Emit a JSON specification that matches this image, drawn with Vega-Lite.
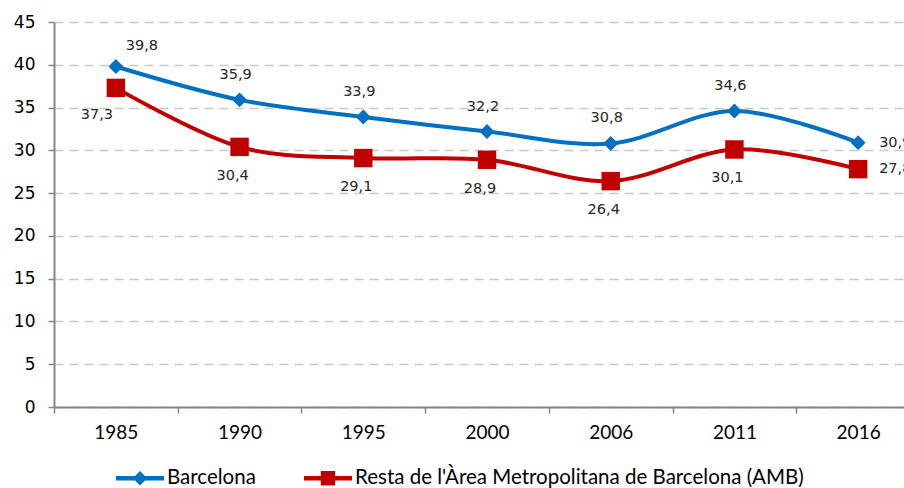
{
  "$schema": "https://vega.github.io/schema/vega-lite/v6.json",
  "width": 850,
  "height": 385,
  "autosize": {"type": "none"},
  "padding": {"left": 54, "top": 22, "right": 0, "bottom": 81},
  "background": "white",
  "config": {
    "view": {"stroke": null},
    "locale": {"number": {"decimal": ",", "thousands": ".", "grouping": [3], "currency": ["", " €"]}}
  },
  "data": {
    "values": [
      {"year": "1985", "series": "Barcelona", "value": 39.8},
      {"year": "1990", "series": "Barcelona", "value": 35.9},
      {"year": "1995", "series": "Barcelona", "value": 33.9},
      {"year": "2000", "series": "Barcelona", "value": 32.2},
      {"year": "2006", "series": "Barcelona", "value": 30.8},
      {"year": "2011", "series": "Barcelona", "value": 34.6},
      {"year": "2016", "series": "Barcelona", "value": 30.9},
      {"year": "1985", "series": "Resta de l'Àrea Metropolitana de Barcelona (AMB)", "value": 37.3},
      {"year": "1990", "series": "Resta de l'Àrea Metropolitana de Barcelona (AMB)", "value": 30.4},
      {"year": "1995", "series": "Resta de l'Àrea Metropolitana de Barcelona (AMB)", "value": 29.1},
      {"year": "2000", "series": "Resta de l'Àrea Metropolitana de Barcelona (AMB)", "value": 28.9},
      {"year": "2006", "series": "Resta de l'Àrea Metropolitana de Barcelona (AMB)", "value": 26.4},
      {"year": "2011", "series": "Resta de l'Àrea Metropolitana de Barcelona (AMB)", "value": 30.1},
      {"year": "2016", "series": "Resta de l'Àrea Metropolitana de Barcelona (AMB)", "value": 27.8}
    ]
  },
  "encoding": {
    "x": {
      "field": "year", "type": "ordinal", "sort": null,
      "scale": {"type": "band", "range": [0, 866], "paddingInner": 0, "paddingOuter": 0},
      "axis": {
        "title": null, "labelAngle": 0, "grid": false,
        "domainColor": "#878787", "domainWidth": 2,
        "tickColor": "#878787", "tickWidth": 1.5, "tickSize": 6, "tickBand": "extent",
        "labelFont": "Lato", "labelFontSize": 19, "labelColor": "#000000",
        "labelPadding": 10
      }
    },
    "y": {
      "field": "value", "type": "quantitative",
      "scale": {"domain": [0, 45], "nice": false},
      "axis": {
        "title": null, "values": [0, 5, 10, 15, 20, 25, 30, 35, 40, 45],
        "domainColor": "#878787", "domainWidth": 2,
        "tickColor": "#878787", "tickWidth": 1.5, "tickSize": 6,
        "gridColor": "#c8c8c8", "gridWidth": 1.5, "gridDash": [9, 6],
        "labelFont": "DejaVu Sans", "labelFontSize": 17, "labelColor": "#000000",
        "labelPadding": 13
      }
    }
  },
  "layer": [
    {
      "mark": {"type": "line", "interpolate": "cardinal", "strokeWidth": 4},
      "encoding": {
        "color": {
          "field": "series", "type": "nominal",
          "scale": {"domain": ["Barcelona", "Resta de l'Àrea Metropolitana de Barcelona (AMB)"], "range": ["#0070C0", "#C00000"]},
          "legend": {
            "orient": "none", "legendX": 62, "legendY": 432, "direction": "horizontal",
            "title": null, "symbolSize": 2304, "columnPadding": 48, "labelOffset": 3, "labelLimit": 0,
            "labelFont": "Lato", "labelFontSize": 20.5, "labelColor": "#000000",
            "encode": {
              "symbols": {
                "update": {
                  "shape": {"signal": "datum.value === 'Barcelona' ? 'M-1,-0.09H1V0.09H-1Z M0,-0.3L0.3,0L0,0.3L-0.3,0Z' : 'M-1,-0.09H1V0.09H-1Z M-0.3,-0.3H0.3V0.3H-0.3Z'"},
                  "fill": {"signal": "datum.value === 'Barcelona' ? '#0070C0' : '#C00000'"},
                  "strokeWidth": {"value": 0},
                  "opacity": {"value": 1},
                  "fillOpacity": {"value": 1}
                }
              }
            }
          }
        }
      }
    },
    {
      "mark": {"type": "point", "filled": true, "opacity": 1},
      "encoding": {
        "color": {"field": "series", "type": "nominal", "legend": null},
        "shape": {"field": "series", "type": "nominal", "scale": {"range": ["diamond", "square"]}, "legend": null},
        "size": {"field": "series", "type": "nominal", "scale": {"range": [220, 340]}, "legend": null}
      }
    },
    {
      "transform": [{"filter": "datum.series === 'Barcelona' && datum.year !== '1985' && datum.year !== '2016'"}],
      "mark": {"type": "text", "font": "DejaVu Sans", "fontSize": 14.5, "color": "#262626", "dy": -25, "dx": -4},
      "encoding": {"text": {"field": "value", "type": "quantitative", "format": ".1f"}}
    },
    {
      "transform": [{"filter": "datum.series !== 'Barcelona' && datum.year !== '1985' && datum.year !== '2016'"}],
      "mark": {"type": "text", "font": "DejaVu Sans", "fontSize": 14.5, "color": "#262626", "dy": 29, "dx": -7},
      "encoding": {"text": {"field": "value", "type": "quantitative", "format": ".1f"}}
    },
    {
      "transform": [{"filter": "datum.series === 'Barcelona' && datum.year === '1985'"}],
      "mark": {"type": "text", "font": "DejaVu Sans", "fontSize": 14.5, "color": "#262626", "dy": -20, "dx": 26},
      "encoding": {"text": {"field": "value", "type": "quantitative", "format": ".1f"}}
    },
    {
      "transform": [{"filter": "datum.series !== 'Barcelona' && datum.year === '1985'"}],
      "mark": {"type": "text", "font": "DejaVu Sans", "fontSize": 14.5, "color": "#262626", "dy": 27, "dx": -19},
      "encoding": {"text": {"field": "value", "type": "quantitative", "format": ".1f"}}
    },
    {
      "transform": [{"filter": "datum.year === '2016'"}],
      "mark": {"type": "text", "font": "DejaVu Sans", "fontSize": 14.5, "color": "#262626", "align": "left", "dx": 21, "dy": 0},
      "encoding": {"text": {"field": "value", "type": "quantitative", "format": ".1f"}}
    }
  ]
}
